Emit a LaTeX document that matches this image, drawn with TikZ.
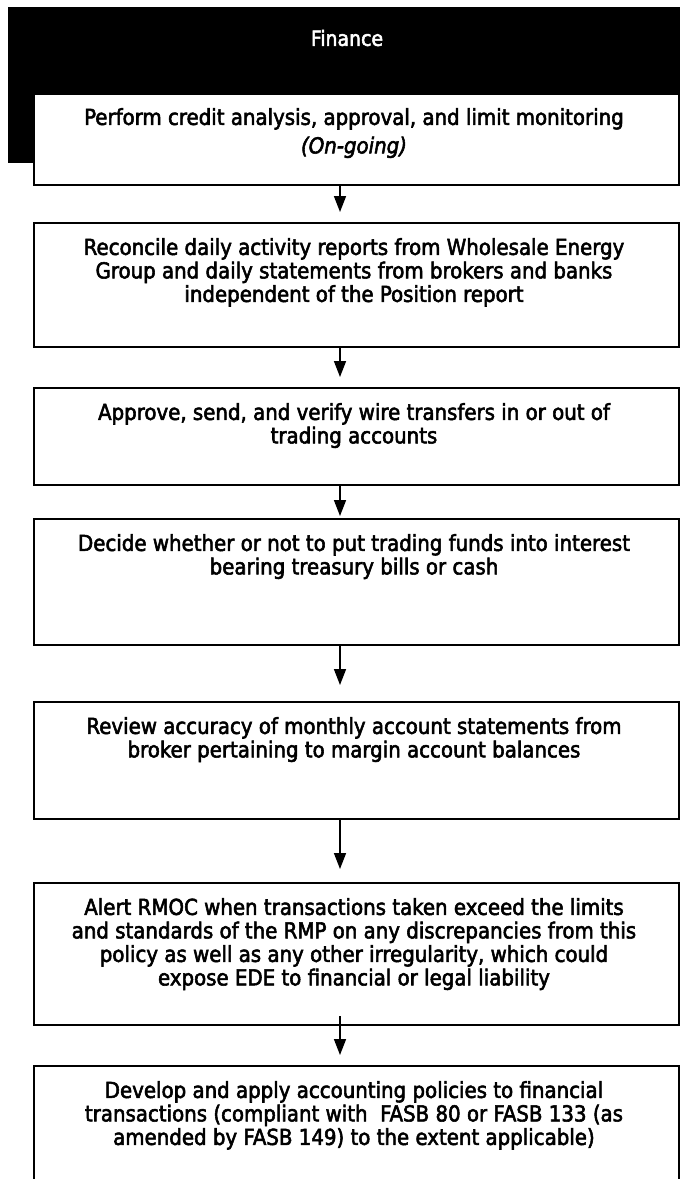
\documentclass[tikz,border=0pt]{standalone}
\usepackage{fontspec}
\setmainfont{DejaVu Sans Condensed}[FakeBold=2.5]
\usetikzlibrary{arrows.meta}
\begin{document}
\begin{tikzpicture}[x=1pt,y=-1pt,
  header/.style={fill=black, draw=none, inner sep=0pt, anchor=north west,
    minimum width=674pt, minimum height=156pt},
  headtext/.style={text=white, font=\fontsize{21}{24}\selectfont, inner sep=0pt},
  stepbox/.style={draw=black, line width=2pt, fill=white, inner sep=0pt,
    anchor=north west, minimum width=645pt},
  steptext/.style={font=\fontsize{22}{23.5}\selectfont, align=center,
    inner sep=0pt, anchor=north},
  flow/.style={-{Triangle[length=16pt,width=12pt]}, line width=1.6pt,
    shorten >=10pt}
]
\useasboundingbox (0,0) rectangle (680,1179);

% column header
\node[header] (head) at (8,7) {};
\node[headtext] (headlabel) at (347,38) {Finance};

% process steps
\node[stepbox, minimum height=91pt]  (b1) at (33,93)   {};
\node[stepbox, minimum height=124pt] (b2) at (33,222)  {};
\node[stepbox, minimum height=97pt]  (b3) at (33,387)  {};
\node[stepbox, minimum height=126pt] (b4) at (33,518)  {};
\node[stepbox, minimum height=117pt] (b5) at (33,701)  {};
\node[stepbox, minimum height=142pt] (b6) at (33,882)  {};
\node[stepbox, minimum height=140pt] (b7) at (33,1065) {};

\node[steptext] (t1) at (354,108) {Perform credit analysis, approval, and limit monitoring\\[5pt]\itshape (On-going)};
\node[steptext] (t2) at (354,238) {Reconcile daily activity reports from Wholesale Energy\\Group and daily statements from brokers and banks\\independent of the Position report};
\node[steptext] (t3) at (354,403) {Approve, send, and verify wire transfers in or out of\\trading accounts};
\node[steptext] (t4) at (354,534) {Decide whether or not to put trading funds into interest\\bearing treasury bills or cash};
\node[steptext] (t5) at (354,717) {Review accuracy of monthly account statements from\\broker pertaining to margin account balances};
\node[steptext] (t6) at (354,898) {Alert RMOC when transactions taken exceed the limits\\and standards of the RMP on any discrepancies from this\\policy as well as any other irregularity, which could\\expose EDE to financial or legal liability};
\node[steptext] (t7) at (354,1081) {Develop and apply accounting policies to financial\\transactions (compliant with \ FASB 80 or FASB 133 (as\\amended by FASB 149) to the extent applicable)};

% connectors
\coordinate (axis) at (340,0);
\draw[flow] (b1.south -| axis) -- (b2.north -| axis);
\draw[flow] (b2.south -| axis) -- (b3.north -| axis);
\draw[flow, shorten >=2pt] (b3.south -| axis) -- (b4.north -| axis);
\draw[flow, shorten >=16pt] (b4.south -| axis) -- (b5.north -| axis);
\draw[flow, shorten >=13pt] (b5.south -| axis) -- (b6.north -| axis);
\draw[flow, shorten <=-10pt] (b6.south -| axis) -- (b7.north -| axis);
\end{tikzpicture}
\end{document}
